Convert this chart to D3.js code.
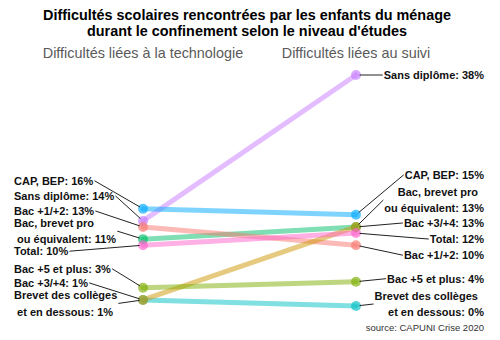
<!DOCTYPE html>
<html>
<head>
<meta charset="utf-8">
<script src="https://cdn.jsdelivr.net/npm/d3@7"></script>
<style>
  body { margin: 0; background: #fff; }
  text { font-family: "Liberation Sans", Arial, sans-serif; }
</style>
</head>
<body>
<svg id="chart" width="500" height="340"></svg>
<script>
// niveaux d'études (labels split on "|" for two-line labels)
var niveaux = ["Sans diplôme", "Brevet des collèges |et en dessous", "CAP, BEP",
               "Bac, brevet pro |ou équivalent", "Bac +1/+2", "Bac +3/+4",
               "Bac +5 et plus", "Total"]
var techno = [14, 1, 16, 11, 13, 1, 3, 10]   // difficultés liées à la technologie (%)
var suivi  = [38, 0, 15, 13, 10, 13, 4, 12]  // difficultés liées au suivi (%)
var colors = ["#C77CFF", "#00BFC4", "#00A9FF", "#00BE67", "#F8766D", "#CD9600", "#7CAE00", "#FF61CC"]

// label nudges (px, like ggrepel output) - left side then right side
var nudgeLeft  = [-25, 3.5, -28, -8, -16, -17, -19, 6]
var nudgeRight = [0, -2, -40, -27, 10, -4, -3, 6]

var svg = d3.select("#chart")

var x = d3.scalePoint()
    .domain(["techno", "suivi"])
    .range([143, 356])
var y = d3.scaleLinear()
    .domain([0, 38])
    .range([306, 75])

var data = niveaux.map(function(n, i) {
  return {name: n, techno: techno[i], suivi: suivi[i], color: colors[i],
          nl: nudgeLeft[i], nr: nudgeRight[i]}
})

// titles
svg.append("text")
   .attr("x", 247).attr("y", 20)
   .attr("text-anchor", "middle")
   .attr("font-size", "14.4px").attr("font-weight", "bold")
   .text("Difficultés scolaires rencontrées par les enfants du ménage")
svg.append("text")
   .attr("x", 247).attr("y", 36)
   .attr("text-anchor", "middle")
   .attr("font-size", "14.4px").attr("font-weight", "bold")
   .text("durant le confinement selon le niveau d'études")

// column headers, centred on each axis
svg.append("text")
   .attr("x", x("techno")).attr("y", 58)
   .attr("text-anchor", "middle")
   .attr("font-size", "14.4px").attr("fill", "#5a5a5a")
   .text("Difficultés liées à la technologie")
svg.append("text")
   .attr("x", x("suivi")).attr("y", 58)
   .attr("text-anchor", "middle")
   .attr("font-size", "14.4px").attr("fill", "#5a5a5a")
   .text("Difficultés liées au suivi")

// slope lines
svg.append("g").selectAll("line")
  .data(data)
  .join("line")
    .attr("x1", x("techno")).attr("y1", function(d) { return y(d.techno) })
    .attr("x2", x("suivi")).attr("y2", function(d) { return y(d.suivi) })
    .attr("stroke", function(d) { return d.color })
    .attr("stroke-width", 5)
    .attr("stroke-opacity", 0.5)
    .attr("stroke-linecap", "round")

// points
var pts = []
data.forEach(function(d) {
  pts.push({d: d, side: "techno", v: d.techno})
  pts.push({d: d, side: "suivi", v: d.suivi})
})
svg.append("g").selectAll("circle")
  .data(pts)
  .join("circle")
    .attr("cx", function(p) { return x(p.side) })
    .attr("cy", function(p) { return y(p.v) })
    .attr("r", 5)
    .attr("fill", function(p) { return p.d.color })
    .attr("fill-opacity", 0.65)

// labels + leader segments
var labG = svg.append("g")
var segG = svg.append("g")
var lineGap = 16.5

pts.forEach(function(p) {
  var left = p.side == "techno"
  var lines = p.d.name.split("|")
  lines[lines.length - 1] = lines[lines.length - 1] + ": " + p.v + "%"
  var px = x(p.side), py = y(p.v)
  var cy = py + (left ? p.d.nl : p.d.nr)
  var top = cy - (lines.length - 1) * lineGap / 2

  var t = labG.append("text")
      .attr("font-size", "11px")
      .attr("font-weight", "bold")
      .attr("fill", "#111")
      .attr("xml:space", "preserve")
      .attr("text-anchor", left ? "start" : "end")
  lines.forEach(function(l, i) {
    var s = l
    if (i > 0 && left) s = " " + s
    if (i < lines.length - 1 && !left) s = s + "\u00a0"
    t.append("tspan")
      .attr("x", left ? 14 : 484)
      .attr("y", top + i * lineGap)
      .attr("dy", "0.35em")
      .text(s.replace(/ $/, ""))
  })
  var bb = t.node().getBBox()
  var sx = left ? bb.x + bb.width + 1 : bb.x - 1
  var dx = px - sx, dy = py - cy
  var len = Math.sqrt(dx * dx + dy * dy)
  var k = (len - 3.5) / len
  segG.append("line")
    .attr("x1", sx).attr("y1", cy)
    .attr("x2", sx + dx * k).attr("y2", cy + dy * k)
    .attr("stroke", "#222")
    .attr("stroke-width", 1)
})

svg.append("text")
   .attr("x", 484).attr("y", 331)
   .attr("text-anchor", "end")
   .attr("font-size", "9.5px").attr("fill", "#333")
   .text("source: CAPUNI Crise 2020")
</script>
</body>
</html>
